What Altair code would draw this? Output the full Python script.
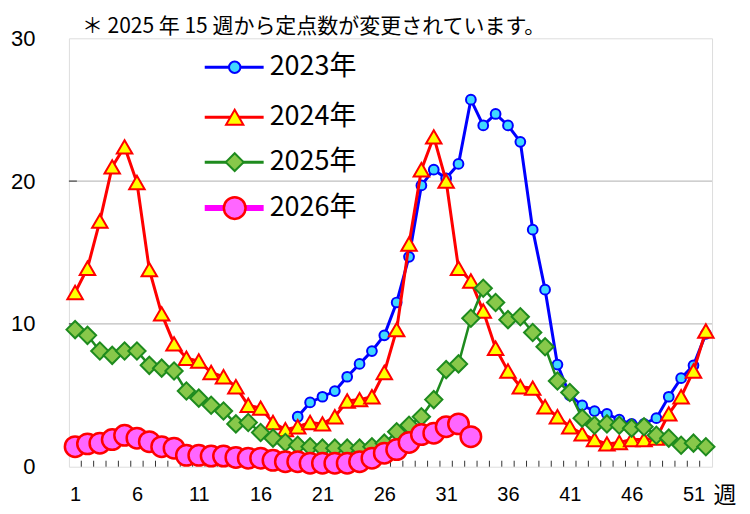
import altair as alt
import pandas as pd

weeks = list(range(1, 53))
series_names = ["2023年", "2024年", "2025年", "2026年"]

y2023 = [None] * 18 + [3.5, 4.5, 4.9, 5.3, 6.3, 7.2, 8.1, 9.2, 11.5, 14.7, 19.7, 20.8, 20.2, 21.2,
                       25.7, 23.9, 24.7, 23.9, 22.75, 16.6, 12.4, 7.15, 5.0, 4.3, 3.9, 3.7, 3.3, 3.0,
                       3.0, 3.4, 4.9, 6.2, 7.1, 9.3]
y2024 = [12.2, 13.9, 17.2, 21.0, 22.4, 19.9, 13.8, 10.7, 8.6, 7.6,
         7.4, 6.6, 6.3, 5.6, 4.3, 4.1, 3.1, 2.6, 2.8, 3.1,
         3.0, 3.5, 4.6, 4.7, 4.9, 6.6, 9.6, 15.6, 20.8, 23.1,
         20.0, 13.9, 13.0, 10.9, 8.3, 6.7, 5.6, 5.5, 4.2, 3.5,
         2.8, 2.3, 1.9, 1.6, 1.7, 1.9, 1.9, 2.0, 3.7, 4.9,
         6.7, 9.5]
y2025 = [9.6, 9.2, 8.1, 7.8, 8.1, 8.1, 7.1, 6.9, 6.7, 5.3,
         4.8, 4.3, 3.9, 3.0, 3.1, 2.4, 2.0, 1.7, 1.5, 1.4,
         1.3, 1.3, 1.3, 1.3, 1.4, 1.65, 2.45, 2.9, 3.5, 4.7,
         6.8, 7.2, 10.4, 12.5, 11.5, 10.3, 10.5, 9.4, 8.4, 6.0,
         5.2, 3.4, 2.9, 3.0, 2.9, 2.7, 2.8, 2.2, 2.0, 1.5,
         1.65, 1.4]
y2026 = [1.4, 1.6, 1.65, 1.9, 2.2, 2.0, 1.75, 1.4, 1.3, 0.8,
         0.8, 0.75, 0.75, 0.65, 0.6, 0.6, 0.45, 0.35, 0.35, 0.25,
         0.25, 0.25, 0.25, 0.35, 0.6, 0.95, 1.2, 1.7, 2.25, 2.35,
         2.8, 3.0, 2.1]

x_labels = [1, 6, 11, 16, 21, 26, 31, 36, 41, 46, 51]
y_labels = [0, 10, 20, 30]
grid_values = [10, 20]
tick_bounds = [w + 0.5 for w in range(1, 52)]
title_text = "＊ 2025 年 15 週から定点数が変更されています。"
x_unit = "週"

W, H = 644, 429

x_axis = alt.Axis(values=x_labels, title=None, grid=False, ticks=False, domain=False,
                  labelFontSize=20, labelFont="Liberation Sans", labelColor="black",
                  labelPadding=18)
y_axis = alt.Axis(values=y_labels, title=None, grid=False, ticks=False, domain=False,
                  labelFontSize=22, labelFont="Liberation Sans", labelColor="black",
                  labelPadding=34)
x_scale = alt.Scale(domain=[0.5, 52.5], nice=False, zero=False)
y_scale = alt.Scale(domain=[0, 30], nice=False)


def frame(vals):
    return pd.DataFrame({"week": weeks[:len(vals)], "value": vals}).dropna()


def X():
    return alt.X("week:Q", scale=x_scale, axis=x_axis)


def Y():
    return alt.Y("value:Q", scale=y_scale, axis=y_axis)


layers = []

# grid lines
grid = alt.Chart(pd.DataFrame({"value": grid_values})).mark_rule(color="#BFBFBF", strokeWidth=1.2).encode(
    y=Y(), x=alt.value(0), x2=alt.value(W))
layers.append(grid)

# x ticks (inside, pointing up)
xt = alt.Chart(pd.DataFrame({"week": tick_bounds})).mark_rule(color="#333333", strokeWidth=1).encode(
    x=X(), y=alt.value(H - 6), y2=alt.value(H))
layers.append(xt)

# y ticks (inside)
yt = alt.Chart(pd.DataFrame({"value": grid_values})).mark_rule(color="#333333", strokeWidth=1).encode(
    y=Y(), x=alt.value(0), x2=alt.value(8))
layers.append(yt)

styles = [
    dict(data=y2023, line="#0000FF", lw=3, shape="circle", fill="#40D8FF", stroke="#0000FF", sw=2, size=95, lsize=130),
    dict(data=y2024, line="#FF0000", lw=3, shape="triangle-up", fill="#FFFF00", stroke="#FF0000", sw=2, size=240, lsize=300),
    dict(data=y2025, line="#1E8B1E", lw=2.5, shape="diamond", fill="#88C84A", stroke="#1E8B1E", sw=2, size=300, lsize=320),
    dict(data=y2026, line="#FF00FF", lw=4, shape="circle", fill="#FF66FF", stroke="#FF0000", sw=2.5, size=420, lsize=470),
]
legend_y = [29, 79, 124, 170]
legend_lw = [3, 3, 3, 6]

for i, s in enumerate(styles):
    df = frame(s["data"])
    line = alt.Chart(df).mark_line(color=s["line"], strokeWidth=s["lw"]).encode(x=X(), y=Y())
    pts = alt.Chart(df).mark_point(shape=s["shape"], filled=True, fill=s["fill"], stroke=s["stroke"],
                                   strokeWidth=s["sw"], size=s["size"], opacity=1).encode(x=X(), y=Y())
    layers += [line, pts]

for i, s in enumerate(styles):
    one = pd.DataFrame({"name": [series_names[i]]})
    ly = legend_y[i]
    lrule = alt.Chart(one).mark_rule(color=s["line"], strokeWidth=legend_lw[i]).encode(
        x=alt.value(136), x2=alt.value(195), y=alt.value(ly))
    lpt = alt.Chart(one).mark_point(shape=s["shape"], filled=True, fill=s["fill"], stroke=s["stroke"],
                                    strokeWidth=s["sw"], size=s["lsize"], opacity=1).encode(
        x=alt.value(166), y=alt.value(ly))
    ltxt = alt.Chart(one).mark_text(align="left", baseline="middle", fontSize=27,
                                    font="Noto Sans CJK JP", color="black").encode(
        x=alt.value(201), y=alt.value(ly), text="name:N")
    layers += [lrule, lpt, ltxt]

title = alt.Chart(pd.DataFrame({"t": [title_text]})).mark_text(
    align="left", baseline="alphabetic", fontSize=21, font="Noto Sans CJK JP", color="black").encode(
    x=alt.value(13), y=alt.value(-5), text="t:N")
unit = alt.Chart(pd.DataFrame({"t": [x_unit]})).mark_text(
    align="center", baseline="middle", fontSize=23, font="Noto Sans CJK JP", color="black").encode(
    x=alt.value(657), y=alt.value(H + 29), text="t:N")
layers += [title, unit]

chart = alt.layer(*layers).properties(
    width=W, height=H,
    padding={"left": 61, "top": 30, "right": 30, "bottom": 44},
    autosize=alt.AutoSizeParams(type="none"),
).configure_view(stroke="#000000", strokeWidth=1.5).configure(background="white")

chart.save("out.html", embed_options={"renderer": "svg", "actions": False})
